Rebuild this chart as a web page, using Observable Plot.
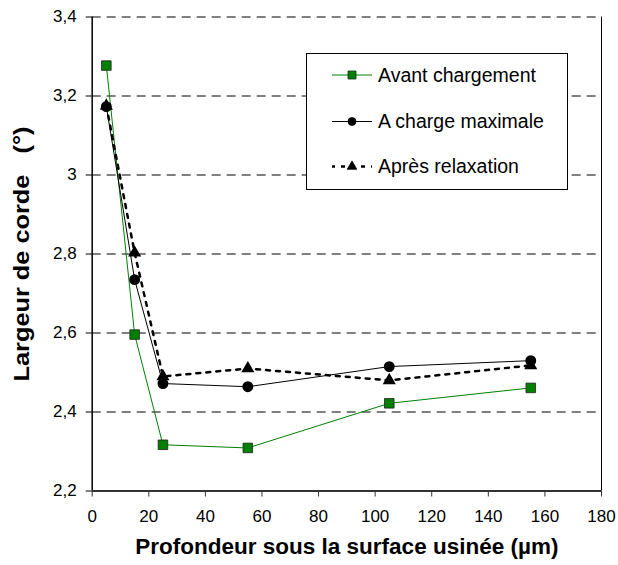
<!DOCTYPE html>
<html><head><meta charset="utf-8">
<script src="https://cdn.jsdelivr.net/npm/d3@7"></script>
<script src="https://cdn.jsdelivr.net/npm/@observablehq/plot@0.6"></script>
<style>
body{margin:0;background:#fff;}
#chart{position:relative;width:618px;height:565px;}
#chart svg{font-family:"Liberation Sans",Arial,sans-serif;}
</style>
</head><body><div id="chart"></div>
<script>
const depths = [5, 15, 25, 55, 105, 155];
const avantChargement = [3.277, 2.596, 2.317, 2.309, 2.422, 2.461];
const chargeMaximale = [3.173, 2.735, 2.472, 2.464, 2.515, 2.530];
const apresRelaxation = [3.175, 2.803, 2.490, 2.510, 2.480, 2.518];
const seriesNames = ["Avant chargement", "A charge maximale", "Après relaxation"];
const xTicks = [0, 20, 40, 60, 80, 100, 120, 140, 160, 180];
const yTicks = [2.2, 2.4, 2.6, 2.8, 3, 3.2, 3.4];
const gridValues = [2.4, 2.6, 2.8, 3, 3.2, 3.4];
const xTitle = "Profondeur sous la surface usinée (µm)";
const yTitle = "Largeur de corde\u00a0\u00a0 (°)";

const toRows = vals => depths.map((x, i) => ({x, y: vals[i]}));
const avRows = toRows(avantChargement);
const cmRows = toRows(chargeMaximale);
const arRows = toRows(apresRelaxation);

const green = "#008000";
const fmt = d => String(d).replace(".", ",");

const chart = Plot.plot({
  width: 618, height: 565,
  marginLeft: 91.7, marginRight: 17, marginTop: 16.5, marginBottom: 74.5,
  style: {fontFamily: '"Liberation Sans", Arial, sans-serif', background: "#fff", color: "black"},
  x: {domain: [0, 180]},
  y: {domain: [2.2, 3.4]},
  marks: [
    Plot.ruleY(gridValues, {stroke: "black", strokeWidth: 1, strokeDasharray: "9,6"}),
    Plot.ruleX([180], {y1: yTicks[0], y2: yTicks[yTicks.length - 1], stroke: "black", strokeWidth: 1}),
    Plot.axisX({ticks: xTicks, tickSize: 6, tickPadding: 13, fontSize: 17, label: null, tickFormat: d => String(d), stroke: "#333"}),
    Plot.axisY({ticks: yTicks, tickSize: 6, tickPadding: 9.5, fontSize: 17, label: null, tickFormat: fmt}),
    Plot.ruleX([0], {stroke: "black", strokeWidth: 1.5}),
    Plot.ruleY([2.2], {stroke: "#333", strokeWidth: 2}),
    Plot.line(avRows, {x: "x", y: "y", stroke: green, strokeWidth: 1}),
    Plot.line(cmRows, {x: "x", y: "y", stroke: "black", strokeWidth: 1}),
    Plot.line(arRows, {x: "x", y: "y", stroke: "black", strokeWidth: 2.5, strokeDasharray: "4,6"}),
    Plot.dot(avRows, {x: "x", y: "y", symbol: "square", r: 5.4, fill: green, stroke: "#222", strokeWidth: 0.8}),
    Plot.dot(arRows, {x: "x", y: "y", symbol: "triangle", r: 3.9, fill: "black", stroke: "black"}),
    Plot.dot(cmRows, {x: "x", y: "y", symbol: "circle", r: 4.7, fill: "black", stroke: "black"}),
    Plot.text([xTitle], {frameAnchor: "bottom", textAnchor: "middle", dy: 63, fontSize: 22.5, fontWeight: "bold", fill: "black"}),
    Plot.text([yTitle], {frameAnchor: "left", textAnchor: "middle", rotate: -90, dx: -70, fontSize: 22, fontWeight: "bold", fill: "black", className: "ytitle"})
  ]
});
document.getElementById("chart").appendChild(chart);

const svg = d3.select(chart);
// stretch the y title to the reference's length
svg.selectAll(".ytitle text").attr("textLength", 255).attr("lengthAdjust", "spacingAndGlyphs");

// Legend drawn inside the SVG
const lg = svg.append("g").attr("font-family", '"Liberation Sans", Arial, sans-serif').attr("text-anchor", "start");
lg.append("rect").attr("x", 306.5).attr("y", 53.5).attr("width", 261).attr("height", 136)
  .attr("fill", "white").attr("stroke", "black").attr("stroke-width", 1);
const styles = [
  {stroke: green, width: 1, dash: null, sym: d3.symbolSquare, size: 64, fill: green, sstroke: "#222"},
  {stroke: "black", width: 1, dash: null, sym: d3.symbolCircle, size: 50, fill: "black", sstroke: "black"},
  {stroke: "black", width: 2.5, dash: "4,6", sym: d3.symbolTriangle, size: 40, fill: "black", sstroke: "black"}
];
const rowY = [75, 121.5, 166.5];
seriesNames.forEach((name, i) => {
  const s = styles[i];
  const yy = rowY[i];
  const ln = lg.append("line").attr("x1", 332).attr("x2", 372).attr("y1", yy).attr("y2", yy)
    .attr("stroke", s.stroke).attr("stroke-width", s.width);
  if (s.dash) ln.attr("stroke-dasharray", s.dash).attr("stroke-dashoffset", 1);
  lg.append("path").attr("d", d3.symbol(s.sym, s.size)()).attr("transform", `translate(352,${yy})`)
    .attr("fill", s.fill).attr("stroke", s.sstroke).attr("stroke-width", 0.8);
  lg.append("text").attr("x", 378).attr("y", yy).attr("dy", "0.35em").attr("font-size", 19.5)
    .attr("fill", "black").text(name);
});
</script>
</body></html>
